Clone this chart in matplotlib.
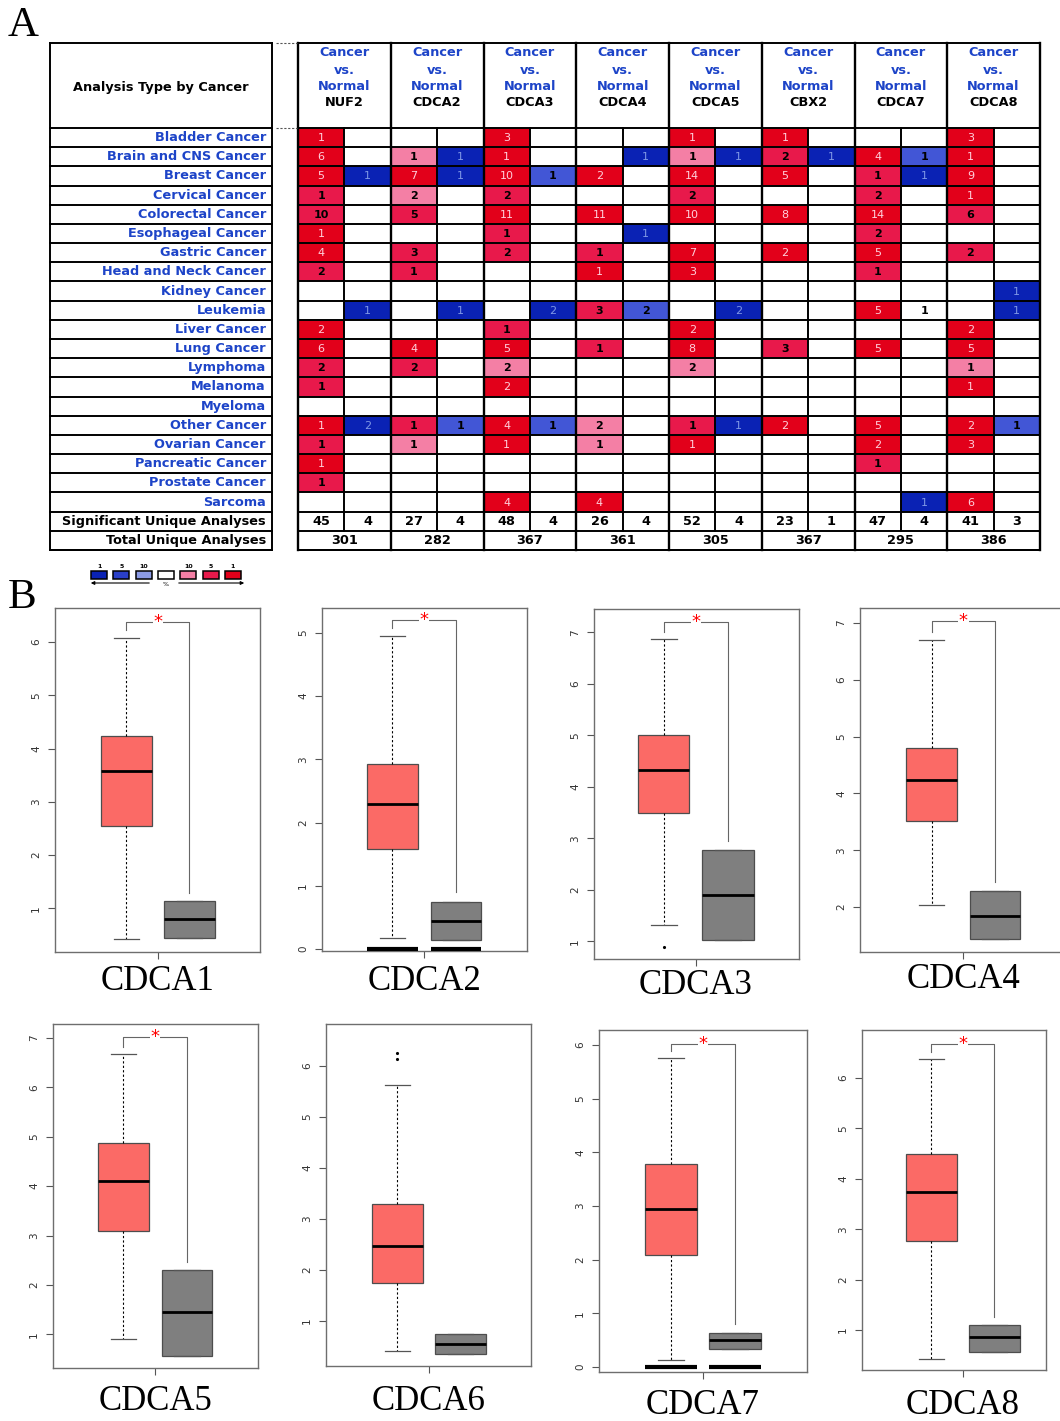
import math
import matplotlib
matplotlib.use('Agg')
import matplotlib.pyplot as plt
from matplotlib.patches import Rectangle

W, H = 1060, 1421

# ---------------- panel A data (Oncomine summary) ----------------
cancers = ['Bladder Cancer', 'Brain and CNS Cancer', 'Breast Cancer', 'Cervical Cancer',
           'Colorectal Cancer', 'Esophageal Cancer', 'Gastric Cancer', 'Head and Neck Cancer',
           'Kidney Cancer', 'Leukemia', 'Liver Cancer', 'Lung Cancer', 'Lymphoma', 'Melanoma',
           'Myeloma', 'Other Cancer', 'Ovarian Cancer', 'Pancreatic Cancer', 'Prostate Cancer',
           'Sarcoma']
table_genes = ['NUF2', 'CDCA2', 'CDCA3', 'CDCA4', 'CDCA5', 'CBX2', 'CDCA7', 'CDCA8']

# count + shade: d = top 1%, m = top 5%, p = top 10%, w = not shaded
nuf2_up = ['1d', '6d', '5d', '1m', '10m', '1d', '4d', '2m', '', '', '2d', '6d', '2m', '1m', '', '1d', '1m', '1d', '1m', '']
nuf2_dn = ['', '', '1d', '', '', '', '', '', '', '1d', '', '', '', '', '', '2d', '', '', '', '']
cdca2_up = ['', '1p', '7d', '2p', '5m', '', '3m', '1m', '', '', '', '4d', '2m', '', '', '1m', '1p', '', '', '']
cdca2_dn = ['', '1d', '1d', '', '', '', '', '', '', '1d', '', '', '', '', '', '1m', '', '', '', '']
cdca3_up = ['3d', '1d', '10d', '2m', '11d', '1m', '2m', '', '', '', '1m', '5d', '2p', '2d', '', '4d', '1d', '', '', '4d']
cdca3_dn = ['', '', '1m', '', '', '', '', '', '', '2d', '', '', '', '', '', '1m', '', '', '', '']
cdca4_up = ['', '', '2d', '', '11d', '', '1m', '1d', '', '3m', '', '1m', '', '', '', '2p', '1p', '', '', '4d']
cdca4_dn = ['', '1d', '', '', '', '1d', '', '', '', '2m', '', '', '', '', '', '', '', '', '', '']
cdca5_up = ['1d', '1p', '14d', '2m', '10d', '', '7d', '3d', '', '', '2d', '8d', '2p', '', '', '1m', '1d', '', '', '']
cdca5_dn = ['', '1d', '', '', '', '', '', '', '', '2d', '', '', '', '', '', '1d', '', '', '', '']
cbx2_up = ['1d', '2m', '5d', '', '8d', '', '2d', '', '', '', '', '3m', '', '', '', '2d', '', '', '', '']
cbx2_dn = ['', '1d', '', '', '', '', '', '', '', '', '', '', '', '', '', '', '', '', '', '']
cdca7_up = ['', '4d', '1m', '2m', '14d', '2m', '5d', '1m', '', '5d', '', '5d', '', '', '', '5d', '2d', '1m', '', '']
cdca7_dn = ['', '1m', '1d', '', '', '', '', '', '', '1w', '', '', '', '', '', '', '', '', '', '1d']
cdca8_up = ['3d', '1d', '9d', '1d', '6m', '', '2m', '', '', '', '2d', '5d', '1p', '1d', '', '2d', '3d', '', '', '6d']
cdca8_dn = ['', '', '', '', '', '', '', '', '1d', '1d', '', '', '', '', '', '1m', '', '', '', '']
sig_up = [45, 27, 48, 26, 52, 23, 47, 41]
sig_dn = [4, 4, 4, 4, 4, 1, 4, 3]
total = [301, 282, 367, 361, 305, 367, 295, 386]

up_cols = [nuf2_up, cdca2_up, cdca3_up, cdca4_up, cdca5_up, cbx2_up, cdca7_up, cdca8_up]
dn_cols = [nuf2_dn, cdca2_dn, cdca3_dn, cdca4_dn, cdca5_dn, cbx2_dn, cdca7_dn, cdca8_dn]

# ---------------- panel B data (GEPIA boxplots) ----------------
box_genes = ['CDCA1', 'CDCA2', 'CDCA3', 'CDCA4', 'CDCA5', 'CDCA6', 'CDCA7', 'CDCA8']
tumor_q1 = [2.55, 1.58, 3.49, 3.52, 3.10, 1.73, 2.08, 2.77]
tumor_med = [3.57, 2.29, 4.33, 4.23, 4.11, 2.46, 2.94, 3.74]
tumor_q3 = [4.23, 2.93, 5.01, 4.80, 4.88, 3.28, 3.78, 4.49]
tumor_lo = [0.42, 0.18, 1.32, 2.04, 0.90, 0.40, 0.14, 0.42]
tumor_hi = [6.08, 4.94, 6.86, 6.70, 6.67, 5.62, 5.75, 6.38]
tumor_out = [[], [], [0.90], [], [], [6.25, 6.13], [], []]
normal_q1 = [0.45, 0.15, 1.02, 1.43, 0.57, 0.35, 0.34, 0.56]
normal_med = [0.80, 0.45, 1.91, 1.85, 1.45, 0.55, 0.50, 0.86]
normal_q3 = [1.13, 0.75, 2.78, 2.28, 2.31, 0.74, 0.64, 1.10]
significant = [True, True, True, True, True, False, True, True]
bracket_y = [6.38, 5.20, 7.19, 7.03, 7.01, None, 6.02, 6.67]
zero_bar = [False, True, False, False, False, False, True, False]
y_lo = [0.18, -0.03, 0.66, 1.21, 0.32, 0.11, -0.09, 0.21]
y_hi = [6.64, 5.39, 7.45, 7.26, 7.28, 6.82, 6.28, 6.95]
x_lo = [-0.13, -0.11, -0.09, -0.13, -0.11, -0.13, -0.12, -0.10]
x_hi = [3.12, 3.12, 3.11, 3.12, 3.12, 3.12, 3.12, 2.82]

# pixel frames of the eight plots (x0, y0, x1, y1)
frames = [(55, 608, 260, 952), (322, 608, 527, 951), (594, 609, 799, 959), (860, 608, 1066, 952),
          (53, 1024, 258, 1368), (326, 1024, 531, 1366), (599, 1030, 807, 1372), (862, 1030, 1046, 1370)]
label_off = [30, 31, 26, 28, 34, 36, 33, 36]


def px_rect(x0, y0, x1, y1):
    return [x0 / W, 1 - y1 / H, (x1 - x0) / W, (y1 - y0) / H]


fig = plt.figure(figsize=(W / 100, H / 100), dpi=100)
ov = fig.add_axes([0, 0, 1, 1])
ov.set_xlim(0, W)
ov.set_ylim(H, 0)
ov.axis('off')

serif = 'Liberation Serif'
ov.text(8, 36, 'A', fontsize=31, family=serif, ha='left', va='baseline')
ov.text(8, 608, 'B', fontsize=31, family=serif, ha='left', va='baseline')

# ---------------- table ----------------
TX0, LAB_X1, GAP_X1, TX1 = 50, 272, 298, 1040
TY0, HEAD_Y1 = 43, 128
ROW_H = (550 - HEAD_Y1) / 22
GENE_W = (TX1 - GAP_X1) / 8
TY1 = HEAD_Y1 + 22 * ROW_H
blue_txt = '#1d44c8'
fs = 9.3

up_fill = {'d': '#e2001a', 'm': '#e8194b', 'p': '#f47fa5'}
dn_fill = {'d': '#0a22b4', 'm': '#4256d6', 'w': 'white'}

for g in range(8):
    gx = GAP_X1 + g * GENE_W
    for r in range(20):
        y = HEAD_Y1 + r * ROW_H
        for k, col in enumerate((up_cols[g], dn_cols[g])):
            code = col[r]
            if not code:
                continue
            n, shade = code[:-1], code[-1]
            x = gx + k * GENE_W / 2
            fill = up_fill[shade] if k == 0 else dn_fill[shade]
            ov.add_patch(Rectangle((x, y), GENE_W / 2, ROW_H, facecolor=fill, edgecolor='none'))
            if shade == 'd':
                tc, fw = ('#ffd0dc', 'normal') if k == 0 else ('#7f97e6', 'normal')
            else:
                tc, fw = 'black', 'bold'
            ov.text(x + GENE_W / 4, y + ROW_H / 2 + 0.5, n, ha='center', va='center',
                    fontsize=8, color=tc, fontweight=fw)
    # header
    cx = gx + GENE_W / 2
    for txt, yy, c in (('Cancer', 53, blue_txt), ('vs.', 70, blue_txt), ('Normal', 87, blue_txt),
                       (table_genes[g], 103, 'black')):
        ov.text(cx, yy, txt, ha='center', va='center', fontsize=fs, fontweight='bold', color=c)
    # summary rows
    ys = HEAD_Y1 + 20 * ROW_H + ROW_H / 2
    ov.text(gx + GENE_W / 4, ys, str(sig_up[g]), ha='center', va='center', fontsize=fs, fontweight='bold')
    ov.text(gx + 3 * GENE_W / 4, ys, str(sig_dn[g]), ha='center', va='center', fontsize=fs, fontweight='bold')
    ov.text(cx, ys + ROW_H, str(total[g]), ha='center', va='center', fontsize=fs, fontweight='bold')

ov.text((TX0 + LAB_X1) / 2, 87, 'Analysis Type by Cancer', ha='center', va='center',
        fontsize=fs, fontweight='bold')
for r, name in enumerate(cancers + ['Significant Unique Analyses', 'Total Unique Analyses']):
    ov.text(LAB_X1 - 6, HEAD_Y1 + r * ROW_H + ROW_H / 2, name, ha='right', va='center',
            fontsize=fs, fontweight='bold', color=blue_txt if r < 20 else 'black')

# grid lines
lw = 1.4
for r in range(23):
    y = HEAD_Y1 + r * ROW_H
    ov.plot([TX0, LAB_X1], [y, y], color='black', lw=lw)
    ov.plot([GAP_X1, TX1], [y, y], color='black', lw=lw)
for y in (TY0, TY1):
    ov.plot([TX0, LAB_X1], [y, y], color='black', lw=lw)
    ov.plot([GAP_X1, TX1], [y, y], color='black', lw=lw)
for x in (TX0, LAB_X1, GAP_X1):
    ov.plot([x, x], [TY0, TY1], color='black', lw=lw)
for g in range(9):
    x = GAP_X1 + g * GENE_W
    ov.plot([x, x], [TY0, TY1], color='black', lw=1.7)
    if g < 8:
        xs = x + GENE_W / 2
        ov.plot([xs, xs], [HEAD_Y1, HEAD_Y1 + 21 * ROW_H], color='black', lw=lw)
for y in (TY0, HEAD_Y1):
    ov.plot([LAB_X1 + 4, GAP_X1 - 1], [y, y], color='#555', lw=0.8, ls=(0, (2, 1.5)))

# colour key
key_cols = ['#0a22b4', '#2a3fc8', '#8c9be6', 'white', '#f47fa5', '#e8194b', '#e2001a']
key_nums = ['1', '5', '10', '', '10', '5', '1']
for i, (kc, kn) in enumerate(zip(key_cols, key_nums)):
    x = 91 + i * 22.3
    ov.add_patch(Rectangle((x, 571), 16, 8, facecolor=kc, edgecolor='black', lw=1.1))
    ov.text(x + 8, 566, kn, ha='center', va='center', fontsize=4.5, fontweight='bold')
ov.text(91 + 3 * 22.3 + 8, 584, '%', ha='center', va='center', fontsize=4.5)
ov.annotate('', xy=(88, 583), xytext=(152, 583),
            arrowprops=dict(arrowstyle='-|>', lw=0.8, color='black', mutation_scale=5))
ov.annotate('', xy=(247, 583), xytext=(176, 583),
            arrowprops=dict(arrowstyle='-|>', lw=0.8, color='black', mutation_scale=5))

# ---------------- boxplots ----------------
for i, gene in enumerate(box_genes):
    ax = fig.add_axes(px_rect(*frames[i]))
    stats = [dict(med=tumor_med[i], q1=tumor_q1[i], q3=tumor_q3[i], whislo=tumor_lo[i],
                  whishi=tumor_hi[i], fliers=tumor_out[i]),
             dict(med=normal_med[i], q1=normal_q1[i], q3=normal_q3[i], whislo=normal_q1[i],
                  whishi=normal_q3[i], fliers=[])]
    bp = ax.bxp(stats, positions=[1, 2], widths=0.8, patch_artist=True, capwidths=[0.4, 0.4],
                boxprops=dict(edgecolor='#4d4d4d', lw=0.9),
                whiskerprops=dict(color='black', lw=0.8, ls=(0, (2, 2))),
                capprops=dict(color='#555555', lw=0.9),
                medianprops=dict(color='black', lw=2.0),
                flierprops=dict(marker='.', markersize=2.5, markerfacecolor='black',
                                markeredgecolor='black'))
    bp['boxes'][0].set_facecolor('#fb6a66')
    bp['boxes'][1].set_facecolor('#7f7f7f')
    if zero_bar[i]:
        ax.hlines([0, 0], [0.6, 1.6], [1.4, 2.4], color='black', lw=3, zorder=3)
    if significant[i]:
        b = bracket_y[i]
        ax.plot([1, 1, 2, 2], [tumor_hi[i] + 0.14, b, b, normal_q3[i] + 0.16],
                color='#666666', lw=0.8)
        ax.text(1.5, b, '*', color='red', fontsize=13, ha='center', va='center',
                bbox=dict(facecolor='white', edgecolor='none', pad=0.5))
    ax.set_xlim(x_lo[i], x_hi[i])
    ax.set_ylim(y_lo[i], y_hi[i])
    ax.set_yticks(range(math.ceil(y_lo[i]), math.floor(y_hi[i]) + 1))
    ax.set_xticks([1.5])
    ax.set_xticklabels([''])
    ax.tick_params(axis='both', length=5, width=0.8, color='#555555', labelsize=7.5,
                   labelcolor='#333333', pad=5)
    for lbl in ax.get_yticklabels():
        lbl.set_rotation(90)
        lbl.set_va('center')
    for sp in ax.spines.values():
        sp.set_color('#6e6e6e')
        sp.set_linewidth(1.0)
    ax.annotate(gene, xy=(1.5, 0), xycoords=('data', 'axes fraction'),
                xytext=(0, -label_off[i]), textcoords='offset pixels',
                ha='center', va='center', fontsize=25, family=serif)

fig.savefig('out.png', dpi=100)
